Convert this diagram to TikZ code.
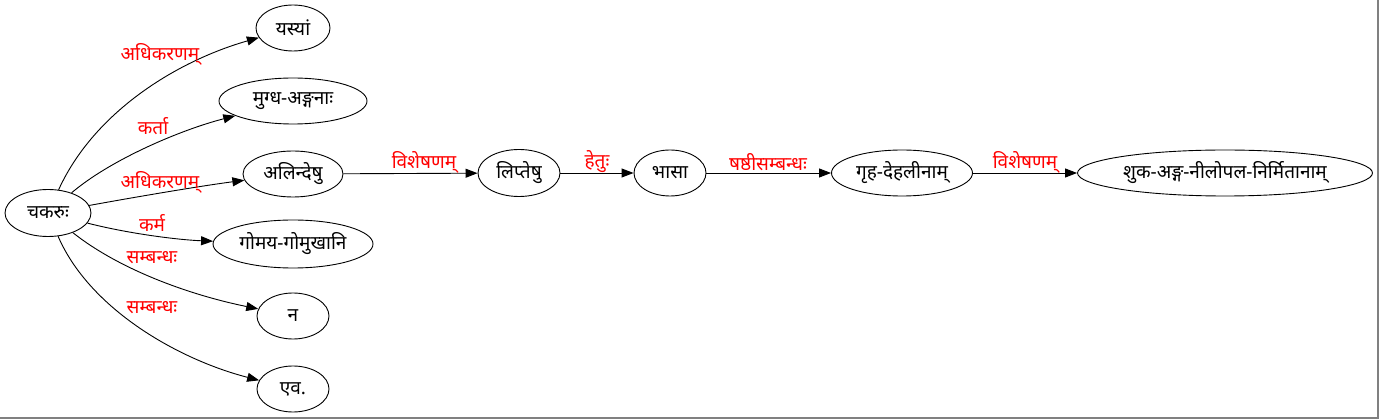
\documentclass[tikz,border=0pt]{standalone}
\usepackage{fontspec}
\usetikzlibrary{arrows.meta,shapes.geometric}
\newfontfamily\dev[Script=Devanagari]{Noto Sans}
\begin{document}
\begin{tikzpicture}[x=1pt,y=-1pt,
  nd/.style={ellipse,draw,line width=0.9pt,inner sep=0pt,font=\dev\fontsize{19}{21}\selectfont},
  lb/.style={text=red,font=\dev\fontsize{19}{21}\selectfont,inner sep=0pt},
  ed/.style={line width=0.9pt,-{Triangle[length=12pt,width=9pt]}}]
\useasboundingbox (0,0) rectangle (1379,419);
\draw[gray,line width=1.5pt] (1378,0) -- (1378,418) -- (0,418);
\node[nd,minimum width=86pt,minimum height=47pt] (c) at (48,213) {चकरुः};
\node[nd,minimum width=74pt,minimum height=46pt] (y) at (293,28) {यस्यां};
\node[nd,minimum width=148pt,minimum height=46pt] (m) at (293,101) {मुग्ध-अङ्गनाः};
\node[nd,minimum width=100pt,minimum height=46pt] (a) at (293,174) {अलिन्देषु};
\node[nd,minimum width=160pt,minimum height=48pt] (g) at (293,244) {गोमय-गोमुखानि};
\node[nd,minimum width=72pt,minimum height=46pt] (n) at (293,316) {न};
\node[nd,minimum width=72pt,minimum height=46pt] (e) at (293,389) {एव.};
\node[nd,minimum width=82pt,minimum height=47pt] (l) at (519,173) {लिप्तेषु};
\node[nd,minimum width=72pt,minimum height=46pt] (b) at (670,173) {भासा};
\node[nd,minimum width=141pt,minimum height=46pt] (gr) at (902,173) {गृह-देहलीनाम्};
\node[nd,minimum width=295pt,minimum height=46pt] (s) at (1225,173) {शुक-अङ्ग-नीलोपल-निर्मितानाम्};
\draw[ed] (c) .. controls (95,110) and (180,60) .. (y);
\draw[ed] (c) .. controls (110,160) and (180,130) .. (m);
\draw[ed] (c) .. controls (130,198) and (200,186) .. (a);
\draw[ed] (c) .. controls (130,234) and (180,240) .. (g);
\draw[ed] (c) .. controls (120,270) and (190,295) .. (n);
\draw[ed] (c) .. controls (90,310) and (180,360) .. (e);
\draw[ed] (a) -- (l);
\draw[ed] (l) -- (b);
\draw[ed] (b) -- (gr);
\draw[ed] (gr) -- (s);
\node[lb] (l1) at (160,54) {अधिकरणम्};
\node[lb] (l2) at (153,126) {कर्ता};
\node[lb] (l3) at (160,182) {अधिकरणम्};
\node[lb] (l4) at (152,223) {कर्म};
\node[lb] (l5) at (152,258) {सम्बन्धः};
\node[lb] (l6) at (152,308) {सम्बन्धः};
\node[lb] (l7) at (424,162) {विशेषणम्};
\node[lb] (l8) at (597,162) {हेतुः};
\node[lb] (l9) at (768,162) {षष्ठीसम्बन्धः};
\node[lb] (l10) at (1025,162) {विशेषणम्};
\end{tikzpicture}
\end{document}
